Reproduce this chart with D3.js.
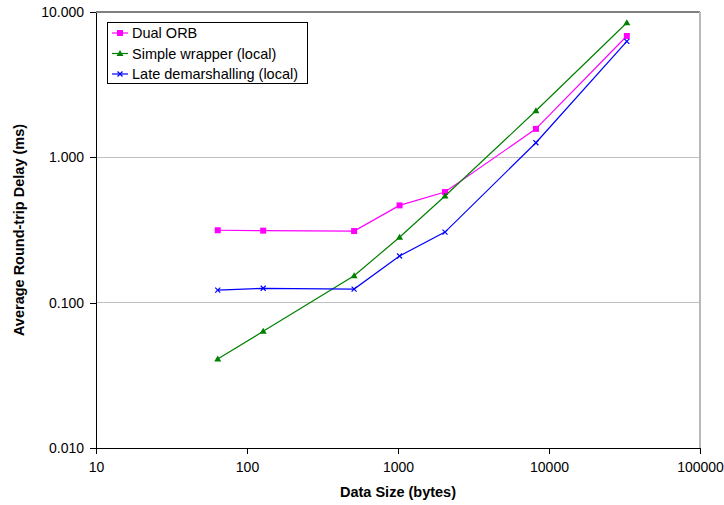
<!DOCTYPE html>
<html lang="en">
<head>
<meta charset="utf-8">
<script src="https://d3js.org/d3.v7.min.js"></script>
<style type="text/css">
body {
  margin: 0;
  background: #fff;
  font-family: "Liberation Sans", Arial, sans-serif;
}
.axis text {
  font: 14px "Liberation Sans", Arial, sans-serif;
  fill: #000;
}
.axis path,
.axis line {
  fill: none;
  stroke: #000;
  shape-rendering: crispEdges;
}
.grid line {
  stroke: #c0c0c0;
  stroke-width: 1.5;
  shape-rendering: crispEdges;
}
.title {
  font: bold 14.5px "Liberation Sans", Arial, sans-serif;
}
.legend text {
  font: 14.5px "Liberation Sans", Arial, sans-serif;
}
</style>
</head>
<body>
<script type="text/javascript">
// data sizes in bytes
var sizes = [64, 128, 512, 1024, 2048, 8192, 32768];

var seriesNames = ["Dual ORB", "Simple wrapper (local)", "Late demarshalling (local)"];
var dualOrb = [0.315, 0.313, 0.311, 0.467, 0.577, 1.57, 6.84];
var simpleWrapper = [0.0409, 0.0635, 0.153, 0.282, 0.542, 2.09, 8.44];
var lateDemarshalling = [0.122, 0.1256, 0.124, 0.2095, 0.306, 1.26, 6.28];

var xTicks = [10, 100, 1000, 10000, 100000];
var yTicks = [0.01, 0.1, 1, 10];

var margin = {top: 12, right: 24, bottom: 57, left: 96},
    width = 724 - margin.left - margin.right,
    height = 505 - margin.top - margin.bottom;

var x = d3.scaleLog().domain([10, 100000]).range([0, width]);
var y = d3.scaleLog().domain([0.01, 10]).range([height, 0]);

var svg = d3.select("body").append("svg")
    .attr("width", 724)
    .attr("height", 505);

var g = svg.append("g")
    .attr("transform", "translate(" + margin.left + "," + margin.top + ")");

// horizontal grid lines
g.append("g")
  .attr("class", "grid")
  .selectAll("line")
  .data(yTicks.slice(1, 3))
  .enter().append("line")
  .attr("x1", 0)
  .attr("x2", width)
  .attr("y1", function(d) { return y(d); })
  .attr("y2", function(d) { return y(d); });

// top and right border
g.append("line")
  .attr("x1", 0).attr("x2", width).attr("y1", 0).attr("y2", 0)
  .attr("stroke", "#808080").attr("stroke-width", 1.5)
  .style("shape-rendering", "crispEdges");
g.append("line")
  .attr("x1", width).attr("x2", width).attr("y1", 0).attr("y2", height)
  .attr("stroke", "#b8b8b8").attr("stroke-width", 2)
  .style("shape-rendering", "crispEdges");

g.append("g")
  .attr("class", "axis axis--y")
  .call(d3.axisLeft(y).tickValues(yTicks).tickFormat(d3.format(".3f"))
    .tickSize(6).tickSizeOuter(0).tickPadding(6));

g.append("g")
  .attr("class", "axis axis--x")
  .attr("transform", "translate(0," + height + ")")
  .call(d3.axisBottom(x).tickValues(xTicks).tickFormat(d3.format("d"))
    .tickSize(6).tickSizeOuter(0).tickPadding(8));

svg.append("text")
  .attr("class", "title")
  .attr("text-anchor", "middle")
  .attr("x", margin.left + width / 2)
  .attr("y", 497)
  .text("Data Size (bytes)");

svg.append("text")
  .attr("class", "title")
  .attr("text-anchor", "middle")
  .attr("transform", "translate(24," + (margin.top + height / 2) + ") rotate(-90)")
  .text("Average Round-trip Delay (ms)");

var series = [
  {name: seriesNames[0], values: dualOrb, color: "#ff00ff", marker: "square"},
  {name: seriesNames[1], values: simpleWrapper, color: "#008000", marker: "triangle"},
  {name: seriesNames[2], values: lateDemarshalling, color: "#0000ff", marker: "x"}
];

var line = d3.line()
  .x(function(d) { return x(d[0]); })
  .y(function(d) { return y(d[1]); });

function drawMarker(sel, type, color) {
  if (type == "square") {
    sel.append("rect").attr("x", -3).attr("y", -3).attr("width", 6).attr("height", 6)
      .attr("fill", color);
  } else if (type == "triangle") {
    sel.append("path").attr("d", "M0,-3.5L3.5,2.5L-3.5,2.5Z").attr("fill", color);
  } else {
    sel.append("path").attr("d", "M-2.5,-2.5L2.5,2.5M-2.5,2.5L2.5,-2.5")
      .attr("stroke", color).attr("stroke-width", 1.2).attr("fill", "none");
  }
}

series.forEach(function(s) {
  var pts = sizes.map(function(d, i) { return [d, s.values[i]]; });
  g.append("path")
    .datum(pts)
    .attr("fill", "none")
    .attr("stroke", s.color)
    .attr("stroke-width", 1.2)
    .attr("d", line);
  pts.forEach(function(p) {
    var m = g.append("g").attr("transform", "translate(" + x(p[0]) + "," + y(p[1]) + ")");
    drawMarker(m, s.marker, s.color);
  });
});

// legend
var legend = svg.append("g")
  .attr("class", "legend")
  .attr("transform", "translate(107,22)");

legend.append("rect")
  .attr("width", 200)
  .attr("height", 61)
  .attr("fill", "#fff")
  .attr("stroke", "#000")
  .attr("stroke-width", 1)
  .style("shape-rendering", "crispEdges");

series.forEach(function(s, i) {
  var row = legend.append("g").attr("transform", "translate(0," + (11 + i * 20.5) + ")");
  row.append("line").attr("x1", 5).attr("x2", 21).attr("y1", 0).attr("y2", 0)
    .attr("stroke", s.color).attr("stroke-width", 1.2);
  var m = row.append("g").attr("transform", "translate(13,0)");
  drawMarker(m, s.marker, s.color);
  row.append("text").attr("x", 25).attr("y", 5).text(s.name);
});
</script>
</body>
</html>
